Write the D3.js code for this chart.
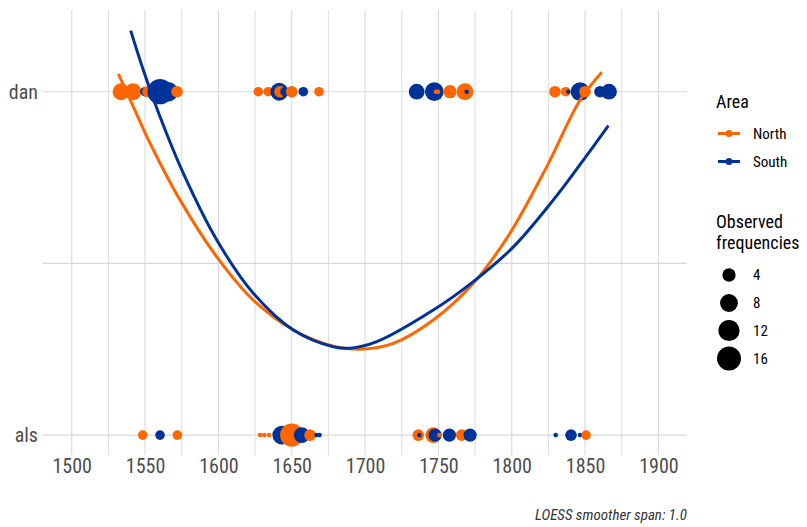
<!DOCTYPE html>
<html>
<head>
<meta charset="utf-8">
<script src="https://cdn.jsdelivr.net/npm/d3@7"></script>
<style>
  body {
    margin: 0;
    background: #fff;
  }
  svg {
    display: block;
    font-family: 'Roboto Condensed', 'Liberation Sans Narrow', 'DejaVu Sans Condensed', Roboto, sans-serif;
  }
  .grid line {
    stroke: #d9d9d9;
  }
  .axis text {
    fill: #4d4d4d;
    font-size: 20px;
    font-family: 'Roboto Condensed', 'Liberation Sans Narrow', 'DejaVu Sans Condensed', Roboto, sans-serif;
  }
</style>
</head>
<body>
<div id="chart"></div>
<script>
// row labels (0 = als, 1 = dan)
const rowLabels = ['als', 'dan']
const xTicks = [1500, 1550, 1600, 1650, 1700, 1750, 1800, 1850, 1900]
const xMinorTicks = [1525, 1575, 1625, 1675, 1725, 1775, 1825, 1875]
const sizeBreaks = [4, 8, 12, 16]

// observed points, ordered by year (N = North, S = South)
const danYears = [1533.6, 1541.8, 1550.0, 1552.0, 1560.2, 1565.7, 1571.8,
  1627.2, 1634.0, 1641.5, 1642.0, 1645.4, 1650.0, 1657.9, 1668.6,
  1735.2, 1747.2, 1748.4, 1749.7, 1757.9, 1768.1, 1769.3,
  1829.5, 1836.8, 1838.6, 1846.6, 1850.0, 1860.2, 1866.3]
const danFreqs = [7, 7, 2, 3, 18, 10, 3,
  2, 2, 8, 3, 2, 3, 2, 2,
  6, 9, 1, 1, 4, 7, 1,
  3, 2, 1, 9, 3, 3, 6]
const danAreas = ['N', 'N', 'S', 'N', 'S', 'S', 'N',
  'N', 'N', 'S', 'N', 'S', 'N', 'S', 'N',
  'S', 'S', 'N', 'N', 'N', 'N', 'S',
  'N', 'N', 'S', 'S', 'N', 'S', 'S']

const alsYears = [1548.4, 1560.2, 1572.0,
  1628.4, 1631.3, 1634.5, 1643.2, 1650.0, 1656.8, 1662.5, 1666.9, 1669.0,
  1736.3, 1737.0, 1746.5, 1747.7, 1750.6, 1757.5, 1765.9, 1771.6,
  1830.0, 1840.4, 1846.6, 1850.7]
const alsFreqs = [2, 2, 2,
  1, 1, 1, 9, 15, 6, 3, 1, 1,
  3, 1, 6, 4, 1, 4, 3, 4,
  1, 3, 1, 2]
const alsAreas = ['N', 'S', 'N',
  'N', 'N', 'N', 'S', 'N', 'S', 'N', 'S', 'S',
  'N', 'S', 'N', 'S', 'N', 'S', 'N', 'S',
  'S', 'S', 'S', 'N']

// loess smoother
const northYears = [1531.8, 1542.0, 1553.4, 1573.8, 1598.9, 1623.8, 1651.1, 1678.4,
  1696.6, 1719.3, 1746.5, 1773.8, 1798.8, 1823.9, 1846.6, 1861.4]
const northFit = [1.052, 0.956, 0.850, 0.685, 0.519, 0.393, 0.306, 0.259,
  0.250, 0.267, 0.335, 0.442, 0.588, 0.782, 0.976, 1.057]
const southYears = [1540.2, 1548.8, 1560.2, 1576.1, 1598.9, 1623.8, 1651.1, 1678.4,
  1689.7, 1708.0, 1746.5, 1773.8, 1801.1, 1828.4, 1848.8, 1865.9]
const southFit = [1.178, 1.063, 0.927, 0.762, 0.568, 0.413, 0.306, 0.257,
  0.253, 0.272, 0.364, 0.447, 0.548, 0.685, 0.801, 0.901]

const colors = { N: '#ff6600', S: '#003399' }
const areaNames = { N: 'North', S: 'South' }

const width = 807
const height = 527
const panel = { left: 43, right: 687, top: 10, bottom: 455 }

const svg = d3
  .select('#chart')
  .append('svg')
  .attr('width', width)
  .attr('height', height)
  .attr('viewBox', `0 0 ${width} ${height}`)

const x = d3.scaleLinear().domain([1480.4, 1919.5]).range([panel.left, panel.right])
const y = d3.scaleLinear().domain([-0.058, 1.238]).range([panel.bottom, panel.top])
// ggplot style area scale: sqrt of (n - 1)
const r = d3.scaleSqrt().domain([0, 1]).range([2.3, 4.8])

// grid
const grid = svg.append('g').attr('class', 'grid')
grid
  .selectAll('.vx')
  .data(xTicks.concat(xMinorTicks))
  .enter()
  .append('line')
  .attr('x1', (d) => x(d))
  .attr('x2', (d) => x(d))
  .attr('y1', panel.top)
  .attr('y2', panel.bottom)
  .attr('stroke-width', (d) => (xTicks.includes(d) ? 1.1 : 0.9))
grid
  .selectAll('.hy')
  .data([0, 0.5, 1])
  .enter()
  .append('line')
  .attr('x1', panel.left)
  .attr('x2', panel.right)
  .attr('y1', (d) => y(d))
  .attr('y2', (d) => y(d))
  .attr('stroke-width', 1.1)

// axes
svg
  .append('g')
  .attr('class', 'axis axis-x')
  .attr('transform', `translate(0,${panel.bottom})`)
  .call(d3.axisBottom(x).tickValues(xTicks).tickFormat(d3.format('d')).tickSize(0).tickPadding(4))
  .call((g) => g.select('.domain').remove())

svg
  .append('g')
  .attr('class', 'axis axis-y')
  .attr('transform', `translate(${panel.left},0)`)
  .call(d3.axisLeft(y).tickValues([0, 1]).tickFormat((d) => rowLabels[d]).tickSize(0).tickPadding(5))
  .call((g) => g.select('.domain').remove())

// points
const drawRow = (years, freqs, areas, row) => {
  svg
    .append('g')
    .selectAll('circle')
    .data(years)
    .enter()
    .append('circle')
    .attr('cx', (d) => x(d))
    .attr('cy', y(row))
    .attr('r', (d, i) => r(freqs[i] - 1))
    .attr('fill', (d, i) => colors[areas[i]])
}
drawRow(danYears, danFreqs, danAreas, 1)
drawRow(alsYears, alsFreqs, alsAreas, 0)

// smoothers
const line = d3
  .line()
  .x((d) => x(d[0]))
  .y((d) => y(d[1]))
  .curve(d3.curveCatmullRom.alpha(0.5))

svg
  .append('path')
  .datum(d3.zip(northYears, northFit))
  .attr('d', line)
  .attr('fill', 'none')
  .attr('stroke', colors.N)
  .attr('stroke-width', 3)
svg
  .append('path')
  .datum(d3.zip(southYears, southFit))
  .attr('d', line)
  .attr('fill', 'none')
  .attr('stroke', colors.S)
  .attr('stroke-width', 3)

// legend
const legend = svg.append('g').attr('transform', 'translate(716,0)')
legend
  .append('text')
  .attr('x', 0)
  .attr('y', 108)
  .style('font-size', '18px')
  .text('Area')

const areaKey = legend
  .selectAll('.area-key')
  .data(['N', 'S'])
  .enter()
  .append('g')
  .attr('transform', (d, i) => `translate(0,${133.5 + i * 28})`)
areaKey
  .append('line')
  .attr('x1', 2)
  .attr('x2', 24)
  .attr('stroke', (d) => colors[d])
  .attr('stroke-width', 3)
areaKey
  .append('circle')
  .attr('cx', 13)
  .attr('r', 3.5)
  .attr('fill', (d) => colors[d])
areaKey
  .append('text')
  .attr('x', 37)
  .attr('dy', '0.35em')
  .style('font-size', '15px')
  .text((d) => areaNames[d])

legend
  .append('text')
  .attr('y', 228)
  .style('font-size', '18px')
  .selectAll('tspan')
  .data(['Observed', 'frequencies'])
  .enter()
  .append('tspan')
  .attr('x', 0)
  .attr('dy', (d, i) => (i ? '1.15em' : 0))
  .text((d) => d)

const sizeY = [275, 303, 330.5, 358.5]
const sizeKey = legend
  .selectAll('.size-key')
  .data(sizeBreaks)
  .enter()
  .append('g')
  .attr('transform', (d, i) => `translate(0,${sizeY[i]})`)
sizeKey
  .append('circle')
  .attr('cx', 13)
  .attr('r', (d) => r(d - 1))
  .attr('fill', '#000')
sizeKey
  .append('text')
  .attr('x', 37)
  .attr('dy', '0.35em')
  .style('font-size', '15px')
  .text((d) => d)

// caption
svg
  .append('text')
  .attr('x', panel.right)
  .attr('y', 520)
  .attr('text-anchor', 'end')
  .style('font-size', '15px')
  .style('font-style', 'italic')
  .attr('fill', '#333')
  .text('LOESS smoother span: 1.0')
</script>
</body>
</html>
